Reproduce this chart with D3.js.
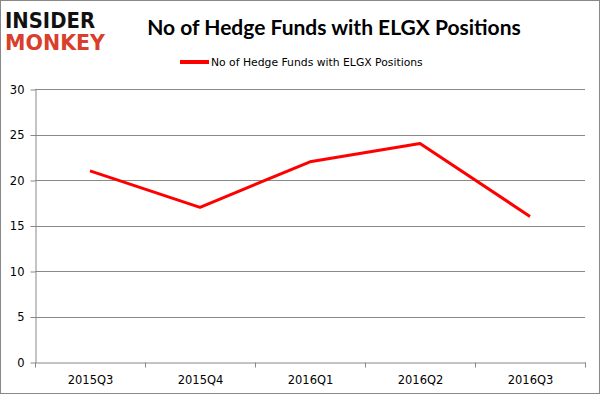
<!DOCTYPE html>
<html><head><meta charset="utf-8">
<script src="https://cdn.jsdelivr.net/npm/d3@7"></script>
<style>body{margin:0;background:#fff}svg{display:block}</style>
</head><body>
<script>
const categories = ["2015Q3","2015Q4","2016Q1","2016Q2","2016Q3"];
const values = [21,17,22,24,16];
const yTicks = [0,5,10,15,20,25,30];
const seriesName = "No of Hedge Funds with ELGX Positions";
const chartTitle = "No of Hedge Funds with ELGX Positions";

(function(){
const W=601,H=395;
const svg=d3.select("body").append("svg").attr("width",W).attr("height",H);
svg.append("rect").attr("x",0.5).attr("y",0.5).attr("width",W-2).attr("height",H-2)
  .attr("fill","#fff").attr("stroke","#888").attr("stroke-width",1);

const pL=35,pR=585,pT=89,pB=362;
const x=d3.scaleBand().domain(categories).range([pL,pR]);
const y=d3.scaleLinear().domain([0,30]).range([pB,pT]);

// grid
svg.append("g").selectAll("line").data(yTicks.filter(d=>d>0)).join("line")
  .attr("x1",pL).attr("x2",pR).attr("y1",d=>Math.round(y(d))+0.5).attr("y2",d=>Math.round(y(d))+0.5)
  .attr("stroke","#888").attr("stroke-width",1);

// y axis
const ya=svg.append("g").attr("transform",`translate(${pL+0.5},0.5)`)
  .call(d3.axisLeft(y).tickValues(yTicks).tickSize(5).tickPadding(6).tickSizeOuter(0));
ya.select(".domain").attr("stroke","#888");
ya.selectAll(".tick line").attr("stroke","#888");
ya.selectAll("text").attr("font-family","'DejaVu Sans',sans-serif").attr("font-size",11.5).attr("fill","#000");

// x axis
const xa=svg.append("g").attr("transform",`translate(0.5,${pB+0.5})`)
  .call(d3.axisBottom(x).tickSize(0).tickPadding(13));
xa.select(".domain").attr("stroke","#888");
xa.selectAll("text").attr("font-family","'DejaVu Sans',sans-serif").attr("font-size",11.5).attr("fill","#000");
const bounds=[...categories.map(c=>x(c)),pR];
xa.append("g").selectAll("line").data(bounds).join("line")
  .attr("x1",d=>d).attr("x2",d=>d).attr("y1",0).attr("y2",5).attr("stroke","#888");

// line
svg.append("path").datum(values)
  .attr("d",d3.line().x((d,i)=>x(categories[i])+x.bandwidth()/2).y(d=>y(d)))
  .attr("fill","none").attr("stroke","#ff0000").attr("stroke-width",3).attr("stroke-linejoin","round");

// title
svg.append("text").attr("x",334).attr("y",35).attr("text-anchor","middle")
  .attr("font-family","Lato,sans-serif").attr("font-weight","bold").attr("font-size",21)
  .attr("fill","#000").text(chartTitle);

// legend
svg.append("line").attr("x1",180).attr("x2",209).attr("y1",62).attr("y2",62)
  .attr("stroke","#ff0000").attr("stroke-width",4);
svg.append("text").attr("x",211).attr("y",66).attr("font-family","'DejaVu Sans',sans-serif")
  .attr("font-size",10.8).attr("fill","#000").text(seriesName);

// logo
svg.append("text").attr("transform","translate(5,28) scale(1,1.3)").attr("font-family","'DejaVu Sans',sans-serif")
  .attr("font-weight","bold").attr("font-size",16).attr("textLength",90).attr("lengthAdjust","spacingAndGlyphs")
  .attr("fill","#111").text("INSIDER");
svg.append("text").attr("transform","translate(5,50) scale(1,1.3)").attr("font-family","'DejaVu Sans',sans-serif")
  .attr("font-weight","bold").attr("font-size",16).attr("textLength",100).attr("lengthAdjust","spacingAndGlyphs")
  .attr("fill","#d9402b").text("MONKEY");
})();
</script>
</body></html>
